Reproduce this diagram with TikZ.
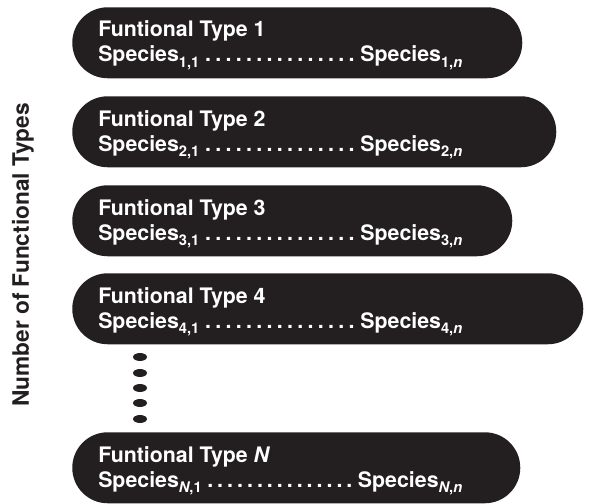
\documentclass[tikz,border=0pt]{standalone}
\usepackage{fontspec}
\setmainfont{TeX Gyre Heros}
\usetikzlibrary{shapes.geometric}
\definecolor{boxblack}{HTML}{231F20}
\newcommand{\spdots}{\xleaders\hbox to 7.4pt{\hss.\hss}\hfill}
\newcommand{\sbs}[1]{\raisebox{-0.28em}{\fontsize{11pt}{12pt}\selectfont #1}}
\newcommand{\spline}[2]{\hbox to 273pt{Species\sbs{#1}\,\spdots\,Species\sbs{#2}}}
\tikzset{
  capsule/.style={fill=boxblack, rounded corners=26.6pt, inner sep=0pt,
    minimum height=53.25pt, anchor=north west},
  titletext/.style={text=white, font=\bfseries\fontsize{16pt}{19pt}\selectfont,
    anchor=base west, inner sep=0pt},
  vdot/.style={ellipse, fill=boxblack, minimum width=10.5pt, minimum height=6pt, inner sep=0pt},
  sidelabel/.style={font=\bfseries\fontsize{17pt}{20pt}\selectfont, rotate=90, inner sep=0pt, text=boxblack}
}
\begin{document}
\begin{tikzpicture}[x=0.75pt, y=-0.75pt]
\useasboundingbox (0,0) rectangle (599,503);
% capsules
\node[capsule, minimum width=337.5pt] (b1) at (72,7)   {};
\node[capsule, minimum width=363pt]   (b2) at (72,96)  {};
\node[capsule, minimum width=330pt]   (b3) at (72,185) {};
\node[capsule, minimum width=383.25pt](b4) at (72,273) {};
\node[capsule, minimum width=336pt]   (bN) at (72,432) {};
% texts
\node[titletext] (t1) at (98,37)  {Funtional Type 1};
\node[titletext] (s1) at (98,62)  {\spline{1,1}{1,\textit{n}}};
\node[titletext] (t2) at (98,126) {Funtional Type 2};
\node[titletext] (s2) at (98,151) {\spline{2,1}{2,\textit{n}}};
\node[titletext] (t3) at (98,215) {Funtional Type 3};
\node[titletext] (s3) at (98,240) {\spline{3,1}{3,\textit{n}}};
\node[titletext] (t4) at (98,303) {Funtional Type 4};
\node[titletext] (s4) at (98,328) {\spline{4,1}{4,\textit{n}}};
\node[titletext] (tN) at (98,462) {Funtional Type \textit{N}};
\node[titletext] (sN) at (98,487) {\spline{\textit{N},1}{\textit{N},\textit{n}}};
% vertical dots
\node[vdot] (d1) at (140,357) {};
\node[vdot] (d2) at (140,373) {};
\node[vdot] (d3) at (140,388) {};
\node[vdot] (d4) at (140,403) {};
\node[vdot] (d5) at (140,419) {};
% side label
\node[sidelabel] (lab) at (23,255) {Number of Functional Types};
\end{tikzpicture}
\end{document}
